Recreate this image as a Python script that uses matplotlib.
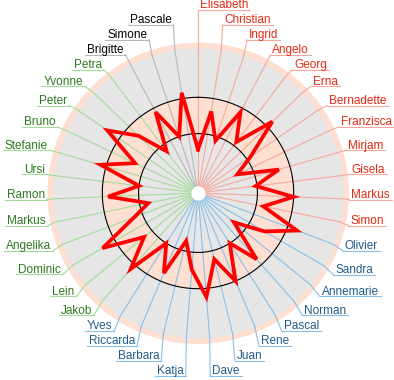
import numpy as np
import matplotlib

matplotlib.use("Agg")
import matplotlib.pyplot as plt

# names clockwise from the top
names = [
    "Elisabeth", "Christian", "Ingrid", "Angelo", "Georg", "Erna", "Bernadette",
    "Franzisca", "Mirjam", "Gisela", "Markus", "Simon",
    "Olivier", "Sandra", "Annemarie", "Norman", "Pascal", "Rene", "Juan", "Dave",
    "Katja", "Barbara", "Riccarda", "Yves",
    "Jakob", "Lein", "Dominic", "Angelika", "Markus", "Ramon", "Ursi", "Stefanie",
    "Bruno", "Peter", "Yvonne", "Petra",
    "Brigitte", "Simone", "Pascale",
]
values = [
    30, 57, 38, 63, 44, 71, 44, 30, 58, 40, 66, 46,
    73, 53, 32, 61, 41, 66, 47, 72, 53, 34, 60, 41,
    70, 48, 76, 47, 35, 62, 41, 70, 48, 76, 57, 36,
    63, 41, 70,
]
group_sizes = [12, 12, 12, 3]
band_low, band_high = 41, 66
scale_max = 100

# colours per group: (text, spoke)
group_colors = [
    ("#e62814", "#f6a89c"),
    ("#1f5c8c", "#88c0e8"),
    ("#2b7a1c", "#a4dc9c"),
    ("#000000", "#b8b8b8"),
]
GRAY = "#e6e6e6"
PEACH = "#fde0d2"

W, H = 394, 380
CX, CY = 198, 193          # centre, image pixels (y down)
R_OUT = 151                # outer edge of ring, pixels
PX_PER_UNIT = 1.45
V_OUT = R_OUT / PX_PER_UNIT
FS = 8.5

plt.rcParams["font.family"] = ["Liberation Sans", "DejaVu Sans"]

fig = plt.figure(figsize=(W / 100, H / 100), dpi=100)
ax = fig.add_axes([(CX - R_OUT) / W, (H - CY - R_OUT) / H, 2 * R_OUT / W, 2 * R_OUT / H],
                  projection="polar")
ax.set_theta_zero_location("N")
ax.set_theta_direction(-1)
ax.set_ylim(0, V_OUT)
ax.grid(False)
ax.set_xticks([])
ax.set_yticks([])
ax.spines["polar"].set_visible(False)
ax.patch.set_alpha(0)

n = len(names)
theta = np.arange(n) * 2 * np.pi / n
colors = []
for gi, size in enumerate(group_sizes):
    colors += [group_colors[gi]] * size

circ = np.linspace(0, 2 * np.pi, 400)
ax.fill_between(circ, 0, V_OUT, color=PEACH, lw=0, zorder=1)
ax.fill_between(circ, 0, scale_max, color=GRAY, lw=0, zorder=1.1)
# peach band drawn as a thick ring
band_pt = (band_high - band_low) * PX_PER_UNIT * 0.72
ax.plot(circ, np.full_like(circ, (band_low + band_high) / 2), color=PEACH,
        lw=band_pt, solid_capstyle="butt", zorder=1.2)

for t, (_, sc) in zip(theta, colors):
    ax.plot([t, t], [0, scale_max], color=sc, lw=0.8, zorder=2)

for rv in (band_low, band_high):
    ax.plot(circ, np.full_like(circ, rv), color="black", lw=0.8, zorder=3)
ax.fill_between(circ, 0, 5, color="white", lw=0, zorder=3.5)

ax.plot(np.append(theta, theta[0]), values + values[:1], color="#ff0000", lw=2.7,
        solid_joinstyle="miter", zorder=4)

# label overlay in image pixel coordinates
ov = fig.add_axes([0, 0, 1, 1], zorder=5)
ov.set_xlim(0, W)
ov.set_ylim(H, 0)
ov.axis("off")

R_TOP, R_BOT, GAP = 154, 163, 15
rx = 151 + 6 * np.abs(np.sin(2 * theta))
ax_x = CX + rx * np.sin(theta)
nat_y = np.where(np.cos(theta) > 0, CY - R_TOP * np.cos(theta), CY - R_BOT * np.cos(theta))
lab_y = nat_y.copy()
for side in (np.sin(theta) >= -1e-9, np.sin(theta) < -1e-9):
    idx = np.where(side)[0]
    up = sorted([i for i in idx if nat_y[i] < CY], key=lambda i: -nat_y[i])
    down = sorted([i for i in idx if nat_y[i] >= CY], key=lambda i: nat_y[i])
    prev = None
    for i in up:
        lab_y[i] = nat_y[i] if prev is None else min(nat_y[i], prev - GAP)
        prev = lab_y[i]
    prev = None
    for i in down:
        lab_y[i] = nat_y[i] if prev is None else max(nat_y[i], prev + GAP)
        prev = lab_y[i]

fig.canvas.draw()
renderer = fig.canvas.get_renderer()
inv = ov.transData.inverted()
for i, name in enumerate(names):
    tc, sc = colors[i]
    px, py = inv.transform(ax.transData.transform((theta[i], scale_max)))
    x0, y0 = ax_x[i], lab_y[i]
    ov.plot([px, x0], [py, y0], color=sc, lw=0.8)
    right = np.sin(theta[i]) >= -1e-9
    if right:
        txt = ov.text(x0 + 2, y0 - 1.5, name, ha="left", va="baseline", color=tc, fontsize=FS)
    else:
        txt = ov.text(x0 - 2, y0 - 1.5, name, ha="right", va="baseline", color=tc, fontsize=FS)
    w = txt.get_window_extent(renderer).width
    x1 = x0 + w + 4 if right else x0 - w - 4
    ov.plot([x0, x1], [y0, y0], color=sc, lw=0.8)

fig.savefig("out.png", dpi=100)
